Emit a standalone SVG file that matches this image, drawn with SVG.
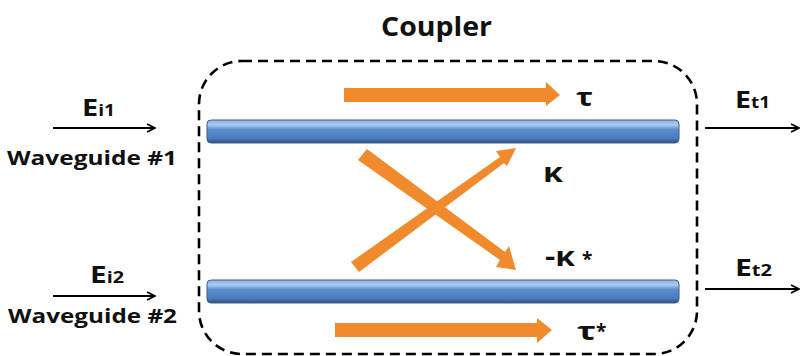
<svg xmlns="http://www.w3.org/2000/svg" width="800" height="356" viewBox="0 0 800 356">
<style>
.lbl{font-family:"Open Sans","Liberation Sans",sans-serif;font-weight:bold;fill:#111}
.line{stroke:#000;stroke-width:2;fill:none}
.orange{fill:#f08a2c}
.e{font-size:24px}
.s{font-size:16px}
</style>
<defs>
<linearGradient id="blue" x1="0" y1="0" x2="0" y2="1">
<stop offset="0" stop-color="#8fb2e0"/>
<stop offset="0.22" stop-color="#aecbf0"/>
<stop offset="0.4" stop-color="#5d8fcf"/>
<stop offset="0.8" stop-color="#4b7bbb"/>
<stop offset="1" stop-color="#2f4f7e"/>
</linearGradient>
<marker id="ah" viewBox="0 0 10 10" refX="9" refY="5" markerWidth="10" markerHeight="10" markerUnits="userSpaceOnUse" orient="auto">
<path d="M1,1 L9,5 L1,9" fill="none" stroke="#000" stroke-width="1.6"/>
</marker>
</defs>
<rect width="800" height="356" fill="#fff"/>

<g id="coupler">
<rect x="199" y="61" width="498" height="293" rx="43" ry="43" fill="none" stroke="#000" stroke-width="2.6" stroke-dasharray="10 6"/>
<text class="lbl" x="381" y="36" font-size="27" textLength="111" lengthAdjust="spacingAndGlyphs">Coupler</text>
</g>

<g id="waveguide1">
<rect x="207" y="120" width="472" height="23" rx="4" fill="url(#blue)" stroke="#3b5f8f" stroke-width="1"/>
<text class="lbl" x="7" y="165" font-size="20" textLength="170" lengthAdjust="spacingAndGlyphs">Waveguide #1</text>
</g>
<g id="waveguide2">
<rect x="207" y="280" width="472" height="23" rx="4" fill="url(#blue)" stroke="#3b5f8f" stroke-width="1"/>
<text class="lbl" x="8" y="323" font-size="20" textLength="169" lengthAdjust="spacingAndGlyphs">Waveguide #2</text>
</g>

<g id="tau">
<polygon class="orange" points="344,88 546,88 546,82 560,95 546,106 546,102 344,102"/>
<text class="lbl" x="576" y="106" font-size="25" textLength="17" lengthAdjust="spacingAndGlyphs">τ</text>
</g>
<g id="tau-star">
<polygon class="orange" points="335,323 537,323 537,318 552,330 537,343 537,337 335,337"/>
<text class="lbl" x="577" y="340" font-size="25" textLength="19" lengthAdjust="spacingAndGlyphs">τ</text>
<text class="lbl" x="596" y="338" font-size="19">*</text>
</g>
<g id="kappa">
<polygon class="orange" points="351,262 500,157 496,151 516,148 507,166 504,163 359,272"/>
<text class="lbl" x="543" y="182" font-size="26" textLength="20" lengthAdjust="spacingAndGlyphs">κ</text>
</g>
<g id="minus-kappa-star">
<polygon class="orange" points="367,149 505,252 509,246 516,270 496,267 500,260 358,160"/>
<text class="lbl" x="545" y="266" font-size="26" textLength="30" lengthAdjust="spacingAndGlyphs">-κ</text>
<text class="lbl" x="582" y="266" font-size="19">*</text>
</g>

<g id="connectors">
<line class="line" x1="53" y1="128" x2="155" y2="128" marker-end="url(#ah)"/>
<line class="line" x1="53" y1="296" x2="155" y2="296" marker-end="url(#ah)"/>
<line class="line" x1="705" y1="128" x2="799" y2="128" marker-end="url(#ah)"/>
<line class="line" x1="705" y1="289" x2="799" y2="289" marker-end="url(#ah)"/>
</g>

<g id="labels">
<text class="lbl" x="82" y="116" textLength="33" lengthAdjust="spacingAndGlyphs"><tspan class="e">E</tspan><tspan class="s">i1</tspan></text>
<text class="lbl" x="90" y="283" textLength="34" lengthAdjust="spacingAndGlyphs"><tspan class="e">E</tspan><tspan class="s">i2</tspan></text>
<text class="lbl" x="735" y="108" textLength="35" lengthAdjust="spacingAndGlyphs"><tspan class="e">E</tspan><tspan class="s">t1</tspan></text>
<text class="lbl" x="735" y="276" textLength="37" lengthAdjust="spacingAndGlyphs"><tspan class="e">E</tspan><tspan class="s">t2</tspan></text>
</g>
</svg>
